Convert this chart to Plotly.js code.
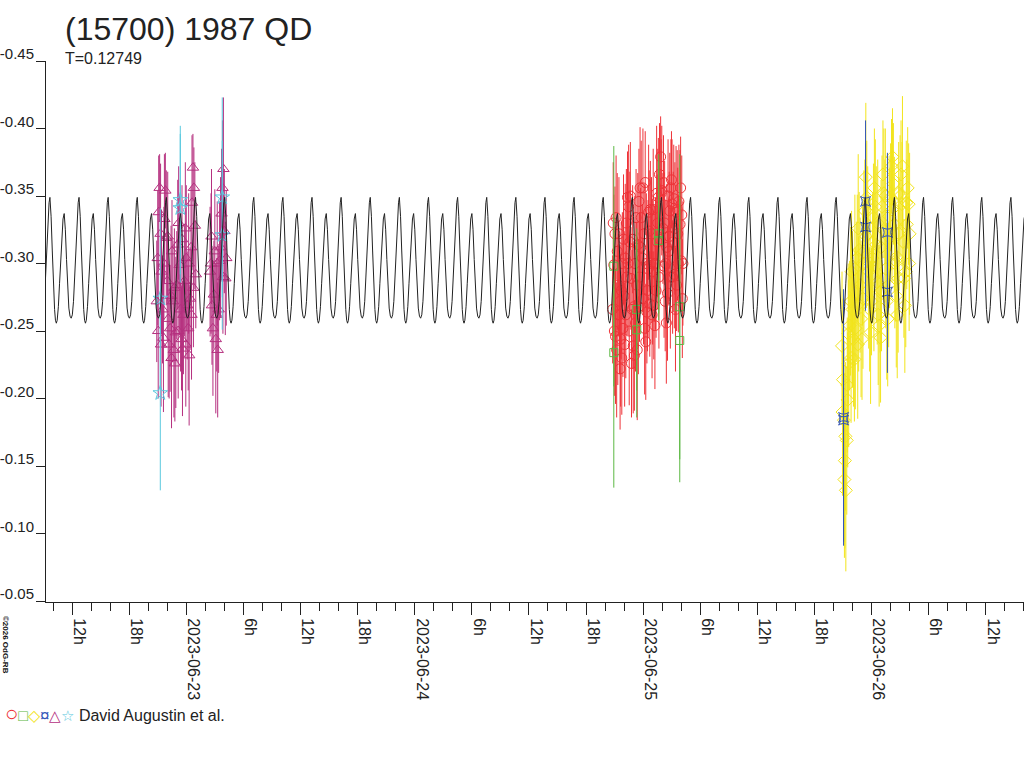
<!DOCTYPE html>
<html>
<head>
<meta charset="utf-8">
<script src="https://cdn.plot.ly/plotly-3.0.1.min.js"></script>
<style>
  body { margin: 0; background: #fff; }
  #chart { width: 1024px; height: 768px; }
</style>
</head>
<body>
<div id="chart"></div>
<script>
// times are hours since 2023-06-22 00:00 UT, magnitudes are relative
const baseDate = Date.UTC(2023, 5, 22)

// model lightcurve: one rotation, phase 0 = brighter maximum
const periodDays = 0.12749
const epochHours = 37.21
const cyclePhase = [0.00, 0.04, 0.08, 0.12, 0.16, 0.19, 0.22, 0.25, 0.29, 0.33, 0.37, 0.41, 0.45,
  0.49, 0.53, 0.57, 0.61, 0.65, 0.69, 0.73, 0.77, 0.81, 0.85, 0.89, 0.93, 0.97]
const cycleMag = [-0.349, -0.335, -0.310, -0.284, -0.266, -0.258, -0.2558, -0.258, -0.268, -0.285,
  -0.305, -0.322, -0.333, -0.337, -0.325, -0.303, -0.281, -0.267, -0.261, -0.2595, -0.262, -0.272,
  -0.290, -0.312, -0.333, -0.345]

// magenta triangles
const magentaTime = [20.9, 21.0, 21.1, 21.2, 21.3, 21.4, 21.5, 21.6, 21.7, 21.8, 21.9, 22.0, 22.1, 22.2,
  22.3, 22.4, 22.5, 22.6, 22.7, 22.8, 22.9, 23.0, 23.1, 23.2, 23.3, 23.4, 23.5, 23.6, 23.7, 23.8, 23.9,
  24.0, 24.1, 24.2, 24.3, 24.4, 24.5, 24.6, 24.7, 24.8, 24.9, 25.0,
  26.5, 26.6, 26.7, 26.8, 26.9, 27.0, 27.1, 27.2, 27.3, 27.4, 27.5, 27.6, 27.7, 27.8, 27.9, 28.0, 28.1, 28.2,
  21.05, 21.35, 21.65, 22.05, 22.45, 22.75, 23.15, 23.55, 23.95, 24.25, 24.55, 24.75, 26.65, 27.25, 27.85]
const magentaMag = [-0.272, -0.304, -0.338, -0.356, -0.322, -0.294, -0.266, -0.245, -0.333, -0.354,
  -0.319, -0.287, -0.259, -0.240, -0.252, -0.276, -0.309, -0.272, -0.236, -0.226, -0.249, -0.284,
  -0.314, -0.330, -0.299, -0.266, -0.244, -0.237, -0.262, -0.287, -0.326, -0.304, -0.269, -0.252,
  -0.232, -0.274, -0.312, -0.345, -0.371, -0.356, -0.328, -0.292,
  -0.294, -0.300, -0.269, -0.252, -0.277, -0.309, -0.244, -0.262, -0.236, -0.266, -0.302, -0.312,
  -0.337, -0.356, -0.370, -0.324, -0.289, -0.304,
  -0.250, -0.240, -0.300, -0.320, -0.230, -0.282, -0.250, -0.318, -0.240, -0.300, -0.262, -0.282,
  -0.320, -0.300, -0.290]
const magentaErr = [0.045, 0.050, 0.042, 0.025, 0.052, 0.046, 0.040, 0.055, 0.048, 0.028,
  0.050, 0.044, 0.058, 0.040, 0.047, 0.052, 0.038, 0.045, 0.050, 0.043,
  0.056, 0.040, 0.048, 0.042, 0.052, 0.046, 0.038, 0.050, 0.044, 0.041,
  0.049, 0.054, 0.040, 0.046, 0.052, 0.038, 0.045, 0.050, 0.025, 0.030, 0.047, 0.040,
  0.048, 0.052, 0.044, 0.050, 0.040, 0.046, 0.055, 0.042, 0.050, 0.047, 0.044, 0.052, 0.048, 0.050,
  0.053, 0.046, 0.042, 0.050,
  0.050, 0.046, 0.042, 0.048, 0.052, 0.044, 0.050, 0.040, 0.046, 0.052, 0.048, 0.044, 0.050, 0.046, 0.042]

// cyan stars
const cyanTime = [21.27, 21.27, 23.37, 23.37, 27.78, 27.78]
const cyanMag = [-0.274, -0.204, -0.347, -0.341, -0.349, -0.321]
const cyanErr = [0.067, 0.072, 0.055, 0.055, 0.074, 0.070]

// red circles
const redTime = [68.80, 68.92, 69.04, 69.16, 69.28, 69.40, 69.52, 69.64, 69.76, 69.88, 70.00, 70.12,
  70.24, 70.36, 70.48, 70.60, 70.72, 70.84, 70.96, 71.08, 71.20, 71.32, 71.44, 71.56, 71.68, 71.80,
  71.92, 72.04, 72.16, 72.28, 72.40, 72.52, 72.64, 72.76, 72.88, 73.00, 73.12, 73.24, 73.36, 73.48,
  73.60, 73.72, 73.84, 73.96, 74.08, 74.20, 74.32, 74.44, 74.56, 74.68, 74.80, 74.92, 75.04, 75.16,
  75.28, 75.40, 75.52, 75.64, 75.76, 75.88, 76.00, 76.12,
  69.10, 69.46, 69.82, 70.18, 70.54, 70.90, 71.26, 71.62, 71.98, 72.34, 72.70, 73.06, 73.42, 73.78,
  74.14, 74.50, 74.86, 75.22, 75.58, 75.94, 76.18, 69.70, 70.30, 72.10, 73.30,
  68.86, 69.22, 69.58, 69.94, 70.42, 70.66, 71.02, 71.38, 71.74, 72.22, 72.58, 72.94, 73.18, 73.54,
  73.90, 74.26, 74.62, 74.98, 75.34, 75.70, 76.06, 68.98, 69.34, 70.06, 70.78, 71.50, 72.46, 73.66,
  74.38, 75.10, 75.46, 69.58, 71.14, 72.82, 74.74]
const redMag = [-0.266, -0.299, -0.322, -0.334, -0.309, -0.284, -0.262, -0.244, -0.230, -0.252,
  -0.276, -0.304, -0.330, -0.349, -0.342, -0.316, -0.289, -0.266, -0.239, -0.232,
  -0.256, -0.284, -0.314, -0.346, -0.356, -0.334, -0.304, -0.274, -0.252, -0.242,
  -0.264, -0.296, -0.324, -0.340, -0.322, -0.294, -0.269, -0.254, -0.280, -0.316,
  -0.349, -0.366, -0.379, -0.354, -0.326, -0.298, -0.272, -0.256, -0.278, -0.309,
  -0.339, -0.356, -0.344, -0.316, -0.292, -0.266, -0.284, -0.322, -0.346, -0.329,
  -0.302, -0.274,
  -0.246, -0.322, -0.300, -0.262, -0.250, -0.318, -0.334, -0.290, -0.356, -0.300, -0.270, -0.340,
  -0.352, -0.318, -0.360, -0.312, -0.290, -0.348, -0.340, -0.356, -0.300, -0.280, -0.290, -0.322, -0.300,
  -0.330, -0.236, -0.272, -0.318, -0.300, -0.350, -0.268, -0.236, -0.312, -0.360, -0.338, -0.262,
  -0.300, -0.330, -0.352, -0.330, -0.350, -0.362, -0.326, -0.300, -0.336, -0.250, -0.262, -0.240,
  -0.226, -0.268, -0.280, -0.290, -0.300, -0.290, -0.338, -0.222, -0.300, -0.300, -0.320]
const redErr = [0.040, 0.052, 0.035, 0.046, 0.058, 0.038, 0.044, 0.050, 0.042, 0.036,
  0.048, 0.055, 0.040, 0.034, 0.046, 0.052, 0.038, 0.044, 0.050, 0.041,
  0.036, 0.047, 0.053, 0.039, 0.045, 0.057, 0.040, 0.034, 0.049, 0.043,
  0.038, 0.051, 0.045, 0.036, 0.042, 0.054, 0.040, 0.047, 0.035, 0.050,
  0.044, 0.038, 0.030, 0.048, 0.041, 0.053, 0.037, 0.045, 0.050, 0.039,
  0.043, 0.036, 0.048, 0.052, 0.040, 0.046, 0.034, 0.049, 0.042, 0.055,
  0.038, 0.044,
  0.050, 0.042, 0.038, 0.047, 0.055, 0.040, 0.036, 0.048, 0.044, 0.052, 0.039, 0.045, 0.050,
  0.041, 0.035, 0.047, 0.053, 0.040, 0.044, 0.038, 0.046, 0.051, 0.043, 0.037, 0.049,
  0.045, 0.050, 0.042, 0.048, 0.053, 0.040, 0.046, 0.052, 0.044, 0.038, 0.050, 0.047,
  0.043, 0.055, 0.040, 0.046, 0.042, 0.036, 0.049, 0.051, 0.044, 0.048, 0.052, 0.046,
  0.040, 0.050, 0.045, 0.053, 0.047, 0.042, 0.049, 0.045, 0.050, 0.044, 0.048]

// green squares
const greenTime = [68.92, 68.92, 71.33, 71.33, 73.64, 73.64, 75.85, 75.85]
const greenMag = [-0.298, -0.234, -0.266, -0.251, -0.322, -0.317, -0.268, -0.243]
const greenErr = [0.089, 0.100, 0.060, 0.065, 0.059, 0.059, 0.113, 0.105]

// yellow diamonds
const yellowTime = [92.9, 93.0, 93.1, 93.2, 93.3, 93.4, 93.5, 93.6, 93.7, 93.8, 93.9,
  94.0, 94.1, 94.2, 94.3, 94.4, 94.5, 94.6, 94.7, 94.8, 94.9,
  95.0, 95.1, 95.2, 95.3, 95.4, 95.5, 95.6, 95.7, 95.8, 95.9,
  96.0, 96.1, 96.2, 96.3, 96.4, 96.5, 96.6, 96.7, 96.8, 96.9,
  97.0, 97.1, 97.2, 97.3, 97.4, 97.5, 97.6, 97.7, 97.8, 97.9,
  98.0, 98.1, 98.2, 98.3, 98.4, 98.5, 98.6, 98.7, 98.8, 98.9,
  99.0, 99.1, 99.2, 99.3, 99.4, 99.5, 99.6, 99.7, 99.8, 99.9, 100.0,
  92.95, 93.15, 93.25, 93.45, 93.55, 93.85, 94.25, 94.65, 95.05, 95.45, 95.85, 96.25, 96.65,
  97.05, 97.45, 97.85, 98.15, 98.45, 98.85, 99.25, 99.65, 99.95, 94.55, 96.95, 98.65]
const yellowMag = [-0.239, -0.214, -0.184, -0.154, -0.132, -0.169, -0.199, -0.226, -0.254, -0.272, -0.294,
  -0.266, -0.244, -0.229, -0.252, -0.279, -0.304, -0.326, -0.310, -0.284, -0.259,
  -0.244, -0.274, -0.309, -0.339, -0.364, -0.349, -0.322, -0.294, -0.266, -0.249,
  -0.272, -0.304, -0.334, -0.356, -0.342, -0.314, -0.286, -0.262, -0.254, -0.279,
  -0.312, -0.342, -0.366, -0.352, -0.324, -0.296, -0.272, -0.259, -0.284, -0.319,
  -0.349, -0.372, -0.379, -0.359, -0.329, -0.302, -0.276, -0.262, -0.289, -0.322,
  -0.350, -0.366, -0.344, -0.316, -0.289, -0.269, -0.294, -0.329, -0.356, -0.344, -0.322,
  -0.190, -0.140, -0.172, -0.210, -0.248, -0.230, -0.296, -0.270, -0.300, -0.320, -0.300, -0.290,
  -0.330, -0.280, -0.350, -0.335, -0.340, -0.300, -0.352, -0.372, -0.345, -0.300, -0.240, -0.245, -0.305]
const yellowErr = [0.055, 0.060, 0.058, 0.065, 0.060, 0.055, 0.050, 0.062, 0.048, 0.055, 0.045,
  0.058, 0.050, 0.046, 0.060, 0.052, 0.047, 0.055, 0.043, 0.050,
  0.058, 0.045, 0.052, 0.060, 0.038, 0.055, 0.042, 0.050, 0.057, 0.046,
  0.053, 0.040, 0.048, 0.040, 0.044, 0.050, 0.058, 0.046, 0.052, 0.060,
  0.045, 0.050, 0.038, 0.040, 0.048, 0.053, 0.044, 0.058, 0.050, 0.046,
  0.052, 0.040, 0.035, 0.036, 0.045, 0.050, 0.045, 0.053, 0.047, 0.055,
  0.042, 0.045, 0.040, 0.046, 0.052, 0.044, 0.050, 0.056, 0.048, 0.045, 0.045,
  0.060, 0.062, 0.058, 0.055, 0.050, 0.052, 0.048, 0.055, 0.050, 0.046, 0.053, 0.049, 0.055,
  0.047, 0.045, 0.050, 0.045, 0.054, 0.048, 0.038, 0.052, 0.046, 0.050, 0.055, 0.048]

// blue star-squares
const blueTime = [93.06, 93.06, 95.37, 95.37, 97.67, 97.67]
const blueMag = [-0.186, -0.184, -0.346, -0.327, -0.323, -0.279]
const blueErr = [0.095, 0.090, 0.060, 0.062, 0.059, 0.060]

// axis ticks
const xTickHours = [12, 18, 24, 30, 36, 42, 48, 54, 60, 66, 72, 78, 84, 90, 96, 102, 108]
const xTickText = ['12h', '18h', '2023-06-23', '6h', '12h', '18h', '2023-06-24', '6h', '12h', '18h',
  '2023-06-25', '6h', '12h', '18h', '2023-06-26', '6h', '12h']
const yTickVals = [-0.45, -0.40, -0.35, -0.30, -0.25, -0.20, -0.15, -0.10, -0.05]
const yTickText = ['-0.45', '-0.40', '-0.35', '-0.30', '-0.25', '-0.20', '-0.15', '-0.10', '-0.05']

function toDate(h) {
  return new Date(baseDate + h * 3600000).toISOString().slice(0, 19).replace('T', ' ')
}

// plot box in pixels
const box = { left: 46, right: 1024, top: 60.5, bottom: 602 }
const rangeHours = [9.26, 112.02]
const px = x => (x - box.left) / (box.right - box.left)
const py = y => (box.bottom - y) / (box.bottom - box.top)

function curveTrace() {
  const periodH = periodDays * 24
  const x = []
  const y = []
  const k0 = Math.floor((rangeHours[0] - epochHours) / periodH) - 1
  const k1 = Math.ceil((rangeHours[1] - epochHours) / periodH) + 1
  for (let k = k0; k <= k1; k++) {
    for (let i = 0; i < cyclePhase.length; i++) {
      x.push(toDate(epochHours + (k + cyclePhase[i]) * periodH))
      y.push(cycleMag[i])
    }
  }
  return {
    type: 'scatter', mode: 'lines', x: x, y: y,
    line: { color: '#222222', width: 1 }, hoverinfo: 'skip',
  }
}

function pointTrace(times, mags, errs, symbol, color, size) {
  return {
    type: 'scatter', mode: 'markers',
    x: times.map(toDate), y: mags,
    marker: { symbol: symbol, size: size, color: color, line: { width: 1, color: color } },
    error_y: { type: 'data', array: errs, visible: true, width: 0, thickness: 1, color: color },
  }
}

const data = [
  pointTrace(magentaTime, magentaMag, magentaErr, 'triangle-up-open', '#b5307f', 10),
  pointTrace(cyanTime, cyanMag, cyanErr, 'star-open', '#5ac8de', 11),
  pointTrace(redTime, redMag, redErr, 'circle-open', '#ee3338', 10),
  pointTrace(greenTime, greenMag, greenErr, 'square-open', '#5cb843', 8),
  pointTrace(yellowTime, yellowMag, yellowErr, 'diamond-open', '#f2e41c', 10),
  pointTrace(blueTime, blueMag, blueErr, 'star-square-open', '#3355b8', 9),
  curveTrace(),
]

const legendText =
  '<span style="color:#ee3338;font-size:22px">○</span><span style="color:#5cb843;font-size:16px">□</span>' +
  '<span style="color:#f2e41c;font-size:16px">◇</span><span style="color:#3355b8;font-size:17px">¤</span>' +
  '<span style="color:#b5307f;font-size:15px">△</span><span style="color:#5ac8de;font-size:15px">☆</span>' +
  ' David Augustin et al.'

const layout = {
  width: 1024,
  height: 768,
  margin: { l: box.left, r: 1024 - box.right, t: box.top, b: 768 - box.bottom },
  paper_bgcolor: '#ffffff',
  plot_bgcolor: '#ffffff',
  showlegend: false,
  font: { family: '"Liberation Sans", Arial, sans-serif', size: 16, color: '#222222' },
  title: {
    text: '(15700) 1987 QD', font: { size: 32 },
    xref: 'container', yref: 'container',
    x: 65 / 1024, xanchor: 'left', y: 1 - 29 / 768, yanchor: 'middle',
  },
  xaxis: {
    type: 'date',
    range: rangeHours.map(toDate),
    showline: true, linecolor: '#222222', linewidth: 1,
    showgrid: false, zeroline: false,
    ticks: 'outside', ticklen: 12, tickcolor: '#222222',
    tickmode: 'array', tickvals: xTickHours.map(toDate), ticktext: xTickText,
    tickangle: 90, ticklabelshift: 7,
    minor: {
      ticks: 'outside', ticklen: 8, tickcolor: '#222222', showgrid: false,
      tickmode: 'linear', tick0: toDate(0), dtick: 2 * 3600000,
    },
  },
  yaxis: {
    range: [-0.0493, -0.45],
    showline: true, linecolor: '#222222', linewidth: 1,
    showgrid: false, zeroline: false,
    ticks: 'outside', ticklen: 9, tickcolor: '#222222',
    tickmode: 'array', tickvals: yTickVals, ticktext: yTickText,
    tickfont: { size: 15 }, ticklabelshift: 7, ticklabelstandoff: -1,
  },
  annotations: [
    {
      text: 'T=0.12749', xref: 'paper', yref: 'paper',
      x: px(63), y: py(58), xanchor: 'left', yanchor: 'middle',
      showarrow: false, font: { size: 16 },
    },
    {
      text: legendText, xref: 'paper', yref: 'paper',
      x: px(3), y: py(714), xanchor: 'left', yanchor: 'middle',
      showarrow: false, font: { size: 16 },
    },
    {
      text: '<b>©2026 OdG-RB</b>', xref: 'paper', yref: 'paper',
      x: px(5), y: py(645), xanchor: 'center', yanchor: 'middle',
      textangle: 90, showarrow: false, font: { size: 8, color: '#111111' },
    },
  ],
}

Plotly.newPlot('chart', data, layout, { staticPlot: true, displayModeBar: false })
</script>
</body>
</html>
